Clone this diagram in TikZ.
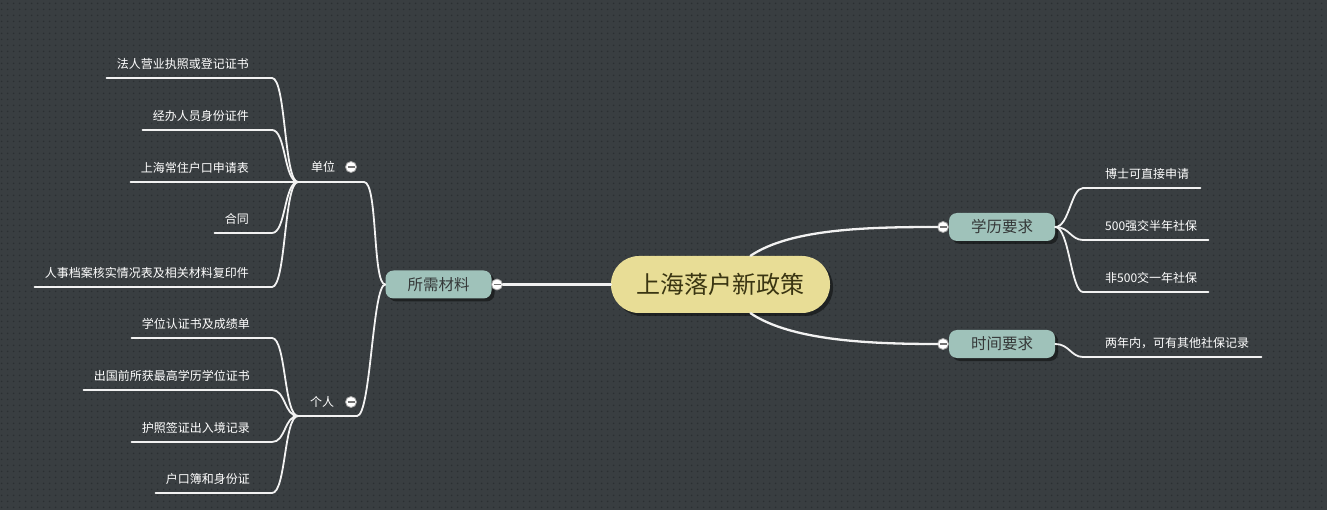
\documentclass[tikz,border=0pt]{standalone}
\usepackage{fontspec}
\newfontfamily\cjk{Noto Sans CJK SC}
\usetikzlibrary{shadows,patterns.meta}

\definecolor{bgcol}{HTML}{393E41}
\definecolor{dotcol}{HTML}{2B2F32}
\definecolor{rootcol}{HTML}{E8DD96}
\definecolor{roottext}{HTML}{3A3512}
\definecolor{subcol}{HTML}{9FC2BA}
\definecolor{subtext}{HTML}{353838}
\definecolor{linecol}{HTML}{F2F2F2}

\tikzdeclarepattern{name=bgdots, type=uncolored,
  bounding box={(0pt,0pt) and (6pt,6pt)}, tile size={(6pt,6pt)},
  code={\fill (3pt,3pt) circle (1pt);}}

\begin{document}
\begin{tikzpicture}[x=1pt,y=-1pt,line cap=round]
    \tikzstyle{root}=[rectangle, rounded corners=28pt, fill=rootcol, text=roottext, minimum width=219pt, minimum height=57pt, inner sep=0pt, font=\cjk\fontsize{24pt}{26pt}\selectfont, drop shadow={shadow xshift=3pt, shadow yshift=-3pt, fill=black, opacity=0.45}]
    \tikzstyle{topic}=[rectangle, rounded corners=8pt, fill=subcol, text=subtext, minimum width=106pt, minimum height=28pt, inner sep=0pt, font=\cjk\fontsize{15.5pt}{17pt}\selectfont, drop shadow={shadow xshift=3pt, shadow yshift=-3pt, fill=black, opacity=0.45}]
    \tikzstyle{group}=[text=white, inner sep=0pt, font=\cjk\fontsize{12pt}{14pt}\selectfont]
    \tikzstyle{leafL}=[anchor=south east, inner sep=0pt, text depth=9.4pt, text=white, font=\cjk\fontsize{12pt}{14pt}\selectfont]
    \tikzstyle{leafR}=[anchor=south west, inner sep=0pt, text depth=9.4pt, text=white, font=\cjk\fontsize{12pt}{14pt}\selectfont]
    \tikzstyle{fold}=[circle, draw=gray!70, line width=0.8pt, fill=white, minimum size=11pt, inner sep=0pt, path picture={\draw[gray!90!black, line width=1.5pt, line cap=butt] ([xshift=-3.5pt]path picture bounding box.center) -- ([xshift=3.5pt]path picture bounding box.center);}]
    \tikzstyle{main}=[draw=linecol, line width=2.3pt]
    \tikzstyle{link}=[draw=linecol, line width=1.8pt]

    \useasboundingbox (0,0) rectangle (1327,510);
    \fill[bgcol] (0,0) rectangle (1327,510);
    \fill[pattern=bgdots, pattern color=dotcol] (0,0) rectangle (1327,510);

    %%% DRAW THE NODES
    \node[root] (root) at (720.5,284.5) {上海落户新政策};
    \node[topic] (sx) at (438.5,284.5) {所需材料};
    \node[topic] (xl) at (1002,227) {学历要求};
    \node[topic] (sj) at (1002,344) {时间要求};

    \node[group] (dw) at (323,167) {单位};
    \node[group] (gr) at (322,402) {个人};
    \coordinate (dw-in) at (298,182);
    \coordinate (dw-out) at (364,182);
    \coordinate (gr-in) at (298,416);
    \coordinate (gr-out) at (357,416);

    \foreach \name/\y/\txt in {a1/78/法人营业执照或登记证书, a2/130/经办人员身份证件, a3/182/上海常住户口申请表, a4/233/合同, a5/287/人事档案核实情况表及相关材料复印件}
        \node[leafL] (\name) at (249,\y) {\txt};
    \foreach \name/\y/\txt in {b1/338/学位认证书及成绩单, b2/390/出国前所获最高学历学位证书, b3/442/护照签证出入境记录, b4/493/户口簿和身份证}
        \node[leafL] (\name) at (250,\y) {\txt};
    \foreach \name/\y/\txt in {c1/188/博士可直接申请, c2/240/500强交半年社保, c3/292/非500交一年社保, d1/357/两年内，可有其他社保记录}
        \node[leafR] (\name) at (1105,\y) {\txt};

    %%% DRAW THE PATHS
    \foreach \name in {a1,a2,a3,a4,a5}
        \draw[link] ([xshift=-10pt]\name.south west) -- ([xshift=23pt]\name.south east) .. controls +(14,0) and +(-14,0) .. (dw-in);
    \foreach \name in {b1,b2,b3,b4}
        \draw[link] ([xshift=-10pt]\name.south west) -- ([xshift=22pt]\name.south east) .. controls +(14,0) and +(-14,0) .. (gr-in);
    \draw[link] (dw-in) -- (dw-out) .. controls +(14,0) and +(-13,0) .. (sx.west);
    \draw[link] (gr-in) -- (gr-out) .. controls +(14,0) and +(-13,0) .. (sx.west);

    \foreach \name in {c1,c2,c3}
        \draw[link] (xl.east) .. controls +(14,0) and +(-12,0) .. ([xshift=-22pt]\name.south west) -- ([xshift=11pt]\name.south east);
    \draw[link] (sj.east) .. controls +(14,0) and +(-12,0) .. ([xshift=-22pt]d1.south west) -- ([xshift=12pt]d1.south east);

    %%% FOLD MARKS
    \node[fold] (sxf) at (497,284.5) {};
    \node[fold] (xlf) at (943,227) {};
    \node[fold] (sjf) at (943,344) {};
    \node[fold] (dwf) at (351,167) {};
    \node[fold] (grf) at (351,402) {};

    \draw[main] (sxf.east) -- (root.west);
    \draw[main] ([xshift=30pt]root.north) .. controls +(40,-27) and +(-70,0) .. (xlf.west);
    \draw[main] ([xshift=30pt]root.south) .. controls +(40,27) and +(-70,0) .. (sjf.west);
\end{tikzpicture}
\end{document}
